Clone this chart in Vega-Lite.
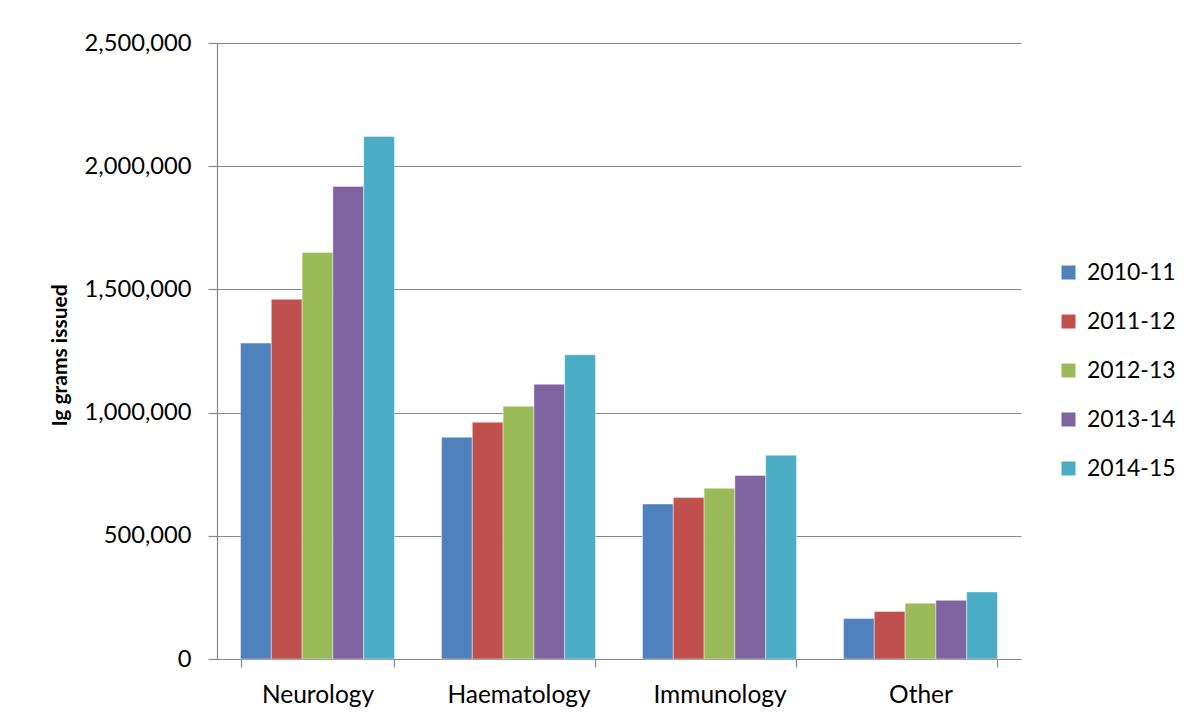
{
  "$schema": "https://vega.github.io/schema/vega-lite/v6.json",
  "autosize": {"type": "none"},
  "width": 804,
  "height": 616,
  "padding": {"left": 217, "top": 43, "right": 166, "bottom": 59},
  "background": "white",
  "config": {
    "font": "Lato",
    "view": {"stroke": null},
    "axis": {"labelFont": "Lato", "titleFont": "Lato", "labelColor": "#000000", "titleColor": "#000000", "domainColor": "#888888", "tickColor": "#888888", "gridColor": "#888888", "domainWidth": 1.2, "tickWidth": 1.2, "gridWidth": 1.2},
    "legend": {"labelFont": "Lato", "labelColor": "#000000"}
  },
  "data": {
    "values": [
      {"specialty": "Neurology", "year": "2010-11", "grams": 1282000},
      {"specialty": "Neurology", "year": "2011-12", "grams": 1460000},
      {"specialty": "Neurology", "year": "2012-13", "grams": 1650000},
      {"specialty": "Neurology", "year": "2013-14", "grams": 1918000},
      {"specialty": "Neurology", "year": "2014-15", "grams": 2121000},
      {"specialty": "Haematology", "year": "2010-11", "grams": 900000},
      {"specialty": "Haematology", "year": "2011-12", "grams": 961000},
      {"specialty": "Haematology", "year": "2012-13", "grams": 1026000},
      {"specialty": "Haematology", "year": "2013-14", "grams": 1115000},
      {"specialty": "Haematology", "year": "2014-15", "grams": 1235000},
      {"specialty": "Immunology", "year": "2010-11", "grams": 629000},
      {"specialty": "Immunology", "year": "2011-12", "grams": 655000},
      {"specialty": "Immunology", "year": "2012-13", "grams": 693000},
      {"specialty": "Immunology", "year": "2013-14", "grams": 745000},
      {"specialty": "Immunology", "year": "2014-15", "grams": 827000},
      {"specialty": "Other", "year": "2010-11", "grams": 164000},
      {"specialty": "Other", "year": "2011-12", "grams": 193000},
      {"specialty": "Other", "year": "2012-13", "grams": 226000},
      {"specialty": "Other", "year": "2013-14", "grams": 238000},
      {"specialty": "Other", "year": "2014-15", "grams": 272000}
    ]
  },
  "mark": {"type": "bar", "stroke": "#ffffff", "strokeWidth": 0.6, "strokeOpacity": 0.7},
  "encoding": {
    "x": {
      "field": "specialty",
      "type": "nominal",
      "sort": ["Neurology", "Haematology", "Immunology", "Other"],
      "scale": {"paddingInner": 0.234, "paddingOuter": 0.117},
      "axis": {"title": null, "labelAngle": 0, "labelFontSize": 24.5, "tickSize": 8, "tickBand": "extent", "labelPadding": 16, "grid": false}
    },
    "xOffset": {
      "field": "year",
      "type": "nominal",
      "scale": {"paddingInner": 0, "paddingOuter": 0}
    },
    "y": {
      "field": "grams",
      "type": "quantitative",
      "scale": {"domain": [0, 2500000], "nice": false},
      "axis": {
        "title": "Ig grams issued",
        "titleFontSize": 21,
        "titleFontWeight": "bold",
        "titleAngle": 270,
        "titleX": -157,
        "titleY": 312,
        "titleAlign": "center",
        "titleBaseline": "middle",
        "values": [0, 500000, 1000000, 1500000, 2000000, 2500000],
        "format": ",.0f",
        "labelFontSize": 23.7,
        "tickSize": 9,
        "labelPadding": 17,
        "grid": true
      }
    },
    "color": {
      "field": "year",
      "type": "nominal",
      "scale": {"range": ["#4F81BD", "#C0504D", "#9BBB59", "#8064A2", "#4BACC6"]},
      "legend": {
        "title": null,
        "orient": "none",
        "legendX": 840,
        "legendY": 218,
        "padding": 0,
        "symbolType": "square",
        "symbolSize": 196,
        "symbolStrokeWidth": 0,
        "labelFontSize": 23,
        "labelOffset": 7,
        "rowPadding": 25
      }
    }
  }
}
